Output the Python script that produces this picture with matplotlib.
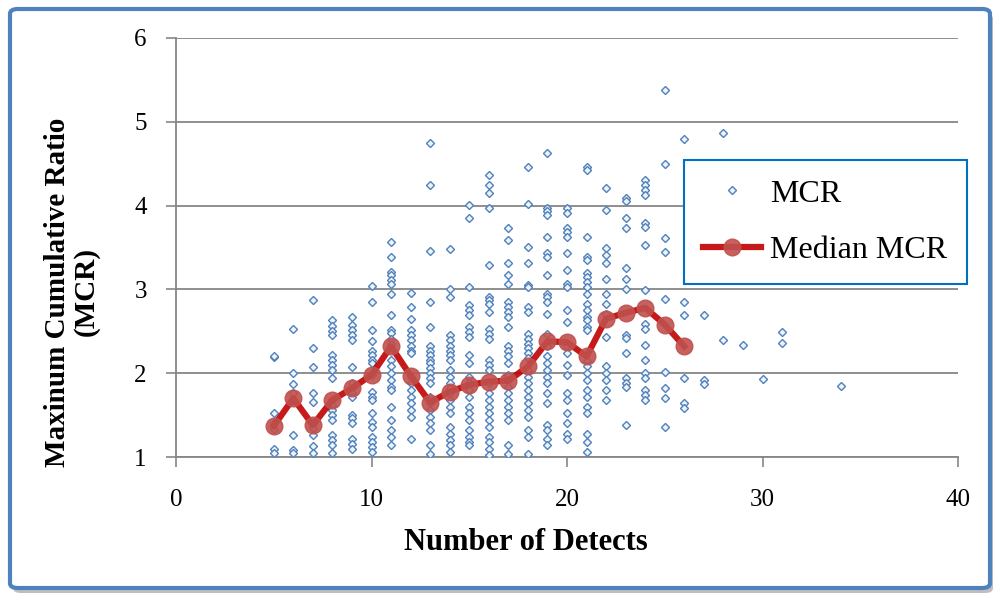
import matplotlib
matplotlib.use("Agg")
import matplotlib.pyplot as plt
from matplotlib.patches import FancyBboxPatch

plt.rcParams["font.family"] = ["Liberation Serif", "DejaVu Serif"]

# number of detects for each scatter column
detects = [5, 6, 7, 8, 9, 10, 11, 12, 13, 14, 15, 16, 17, 18, 19,
           20, 21, 22, 23, 24, 25, 26, 27, 28, 29, 30, 31, 34]

# MCR values
mcr_values = [
    [2.19, 2.21, 1.53, 1.40, 1.33, 1.10, 1.05],
    [2.53, 2.00, 1.87, 1.76, 1.68, 1.26, 1.08, 1.05],
    [2.87, 2.30, 2.07, 1.76, 1.66, 1.41, 1.35, 1.26, 1.13, 1.05],
    [2.63, 2.56, 2.50, 2.46, 2.22, 2.16, 2.10, 2.04, 1.94, 1.68, 1.62, 1.56,
     1.50, 1.44, 1.26, 1.20, 1.14, 1.05],
    [2.67, 2.57, 2.52, 2.46, 2.40, 2.07, 1.88, 1.82, 1.76, 1.72, 1.50, 1.46,
     1.40, 1.22, 1.16, 1.10],
    [3.04, 2.85, 2.52, 2.38, 2.26, 2.22, 2.16, 2.12, 1.98, 1.78, 1.72, 1.68,
     1.52, 1.42, 1.36, 1.24, 1.18, 1.12, 1.06],
    [3.56, 3.39, 3.21, 3.17, 3.11, 3.07, 2.94, 2.69, 2.52, 2.48, 2.41, 2.35,
     2.16, 2.08, 2.00, 1.92, 1.84, 1.80, 1.60, 1.44, 1.32, 1.24, 1.14],
    [2.96, 2.79, 2.65, 2.52, 2.46, 2.40, 2.33, 2.27, 2.24, 1.96, 1.88, 1.80,
     1.72, 1.64, 1.56, 1.48, 1.22],
    [4.75, 4.25, 3.46, 2.85, 2.55, 2.32, 2.27, 2.22, 2.16, 2.12, 2.06, 2.00,
     1.94, 1.88, 1.72, 1.65, 1.56, 1.48, 1.40, 1.32, 1.14, 1.04],
    [3.48, 3.01, 2.91, 2.45, 2.40, 2.33, 2.27, 2.22, 2.16, 2.04, 1.96, 1.88,
     1.82, 1.76, 1.68, 1.60, 1.52, 1.36, 1.28, 1.20, 1.14, 1.06],
    [4.01, 3.85, 3.03, 2.81, 2.75, 2.69, 2.55, 2.49, 2.43, 2.22, 2.12, 1.96,
     1.88, 1.80, 1.72, 1.60, 1.52, 1.44, 1.32, 1.24, 1.18, 1.14],
    [4.36, 4.24, 4.15, 3.97, 3.29, 2.91, 2.87, 2.83, 2.73, 2.53, 2.47, 2.41,
     2.16, 2.10, 2.04, 1.88, 1.76, 1.68, 1.60, 1.52, 1.44, 1.36, 1.24, 1.18,
     1.10, 1.02],
    [3.73, 3.59, 3.31, 3.17, 3.07, 2.85, 2.79, 2.73, 2.67, 2.55, 2.32, 2.26,
     2.20, 2.12, 1.98, 1.92, 1.84, 1.76, 1.68, 1.60, 1.52, 1.44, 1.14, 1.04],
    [4.46, 4.02, 3.51, 3.31, 3.05, 3.03, 2.79, 2.73, 2.47, 2.41, 2.35, 2.30,
     2.24, 2.18, 2.04, 1.96, 1.88, 1.80, 1.72, 1.64, 1.56, 1.48, 1.32, 1.24,
     1.04],
    [4.63, 3.97, 3.93, 3.89, 3.63, 3.43, 3.39, 3.17, 2.95, 2.91, 2.85, 2.71,
     2.47, 2.32, 2.20, 2.12, 2.04, 1.96, 1.88, 1.76, 1.64, 1.38, 1.32, 1.22,
     1.14],
    [3.97, 3.91, 3.73, 3.69, 3.63, 3.43, 3.23, 3.07, 3.03, 2.75, 2.61, 2.32,
     2.24, 2.10, 1.98, 1.76, 1.68, 1.52, 1.40, 1.28, 1.22],
    [4.46, 4.42, 3.63, 3.39, 3.35, 3.19, 3.15, 3.09, 3.03, 2.95, 2.83, 2.75,
     2.67, 2.63, 2.55, 2.51, 2.14, 2.08, 2.00, 1.92, 1.80, 1.72, 1.60, 1.52,
     1.28, 1.18, 1.06],
    [4.21, 3.95, 3.49, 3.41, 3.31, 3.13, 2.95, 2.83, 2.71, 2.43, 2.08, 2.00,
     1.92, 1.80, 1.68],
    [4.09, 4.05, 3.85, 3.73, 3.25, 3.13, 3.01, 2.46, 2.42, 2.24, 1.94, 1.88,
     1.84, 1.38],
    [4.31, 4.25, 4.19, 4.13, 3.79, 3.75, 3.53, 2.99, 2.59, 2.53, 2.34, 2.16,
     2.00, 1.94, 1.80, 1.74, 1.68],
    [5.38, 4.50, 3.61, 3.45, 2.89, 2.02, 1.82, 1.70, 1.36],
    [4.80, 2.85, 2.69, 1.94, 1.64, 1.58],
    [2.69, 1.92, 1.87],
    [4.87, 2.40],
    [2.34],
    [1.93],
    [2.49, 2.36],
    [1.85],
]

median_x = list(range(5, 27))
median_mcr = [1.37, 1.70, 1.38, 1.68, 1.82, 1.98, 2.32, 1.97, 1.65, 1.78, 1.86,
              1.90, 1.91, 2.08, 2.38, 2.37, 2.20, 2.65, 2.72, 2.78, 2.58, 2.32]

xticks = [0, 10, 20, 30, 40]
yticks = [1, 2, 3, 4, 5, 6]

W, H = 1000, 598
fig = plt.figure(figsize=(W / 100, H / 100), dpi=100)
fig.patch.set_facecolor("white")

# chart-area frame with a light shadow
shadow = FancyBboxPatch((13 / W, 5 / H), 980 / W, 579 / H,
                        boxstyle="round,pad=0,rounding_size=0.008",
                        transform=fig.transFigure, facecolor="#bfbfbf",
                        edgecolor="none", zorder=-20)
frame = FancyBboxPatch((10 / W, 10 / H), 980 / W, 579 / H,
                       boxstyle="round,pad=0,rounding_size=0.008",
                       transform=fig.transFigure, facecolor="white",
                       edgecolor="#4F81BD", linewidth=3, zorder=-10)
fig.patches.extend([shadow, frame])

ax = fig.add_axes([176 / W, 1 - 457 / H, (958 - 176) / W, (457 - 38) / H])
ax.set_facecolor("none")

xs, ys = [], []
for d, vals in zip(detects, mcr_values):
    xs += [d] * len(vals)
    ys += vals
ax.plot(xs, ys, linestyle="none", marker="D", markersize=4,
        markerfacecolor="#eef3fa", markeredgecolor="#4F81BD",
        markeredgewidth=1.0, label="MCR", zorder=3)
ax.plot(median_x, median_mcr, color="#C00000", linewidth=4.5, marker="o",
        markersize=12, markerfacecolor="#C0504D", markeredgecolor="#C0504D",
        alpha=0.9, label="Median MCR", zorder=4)

ax.set_xlim(0, 40)
ax.set_ylim(1, 6)
ax.set_xticks(xticks)
ax.set_yticks(yticks)
ax.tick_params(axis="both", direction="out", length=7, width=1.2,
               color="#868686", labelsize=18)
ax.tick_params(axis="x", pad=16)
ax.tick_params(axis="y", pad=14)
ax.yaxis.grid(True, color="#868686", linewidth=1.3)
ax.set_axisbelow(True)
for side in ["top", "right"]:
    ax.spines[side].set_visible(False)
for side in ["left", "bottom"]:
    ax.spines[side].set_color("#868686")
    ax.spines[side].set_linewidth(1.3)

fig.text(526 / W, 1 - 543 / H, "Number of Detects", ha="center", va="center",
         fontsize=22, fontweight="bold")
fig.text(72 / W, 1 - 292 / H, "Maxinum Cumulative Ratio\n(MCR)",
         ha="center", va="center", rotation=90, fontsize=21,
         fontweight="bold", multialignment="center", linespacing=1.05)

leg = ax.legend(loc="upper left", bbox_to_anchor=(684 / W, 1 - 160 / H),
                bbox_transform=fig.transFigure, fontsize=23, fancybox=False,
                edgecolor="#0070C0", framealpha=1, borderpad=0.6,
                labelspacing=0.85, handlelength=1.8, handletextpad=0.3,
                borderaxespad=0)
leg.get_frame().set_linewidth(1.5)

fig.savefig("out.png", dpi=100)
